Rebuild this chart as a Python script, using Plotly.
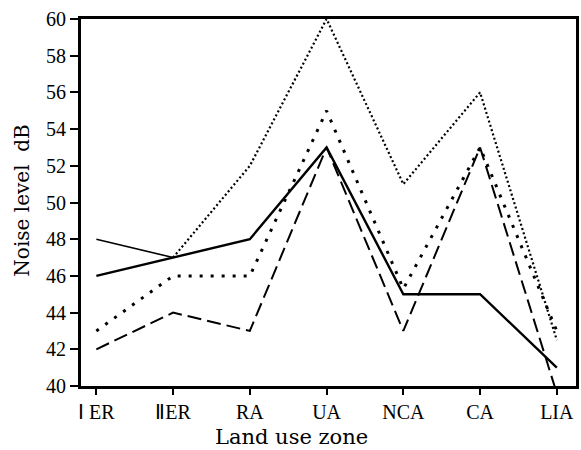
import plotly.graph_objects as go

zones = ["Ⅰ ER", "ⅡER", "RA", "UA", "NCA", "CA", "LIA"]
solid_thick = [46, 47, 48, 53, 45, 45, 41]
solid_thin = [48, 47, None, None, None, None, None]
fine_dotted = [None, 47, 52, 60, 51, 56, 42.5]
bold_dotted = [43, 46, 46, 55, 45.3, 53, 43]
dashed = [42, 44, 43, 53, 43, 53, 39.6]
y_ticks = list(range(40, 61, 2))

x = list(range(len(zones)))
fig = go.Figure()
fig.add_trace(go.Scatter(x=x, y=solid_thin, mode="lines",
                         line=dict(color="black", width=1.6)))
fig.add_trace(go.Scatter(x=x, y=fine_dotted, mode="lines",
                         line=dict(color="black", width=2.2, dash="2px,2.5px")))
fig.add_trace(go.Scatter(x=x, y=bold_dotted, mode="lines",
                         line=dict(color="black", width=3, dash="3px,8px")))
fig.add_trace(go.Scatter(x=x, y=dashed, mode="lines",
                         line=dict(color="black", width=2, dash="14px,6px")))
fig.add_trace(go.Scatter(x=x, y=solid_thick, mode="lines",
                         line=dict(color="black", width=2.4)))

tick_font = dict(family="Liberation Serif", size=20, color="black")
fig.update_layout(
    width=581, height=450,
    margin=dict(l=81, r=2, t=19, b=64),
    paper_bgcolor="white", plot_bgcolor="white",
    showlegend=False,
    font=dict(family="Liberation Serif", color="black"),
    xaxis=dict(range=[-0.2, 6.25], tickmode="array", tickvals=x, ticktext=zones,
               showgrid=False, zeroline=False, showline=True, linecolor="black",
               linewidth=3, mirror=True, ticks="outside", ticklen=6, tickwidth=2,
               tickcolor="black", tickfont=tick_font),
    yaxis=dict(range=[40, 60], tickmode="array", tickvals=y_ticks,
               showgrid=False, zeroline=False, showline=True, linecolor="black",
               linewidth=3, mirror=True, ticks="outside", ticklen=8, tickwidth=2,
               tickcolor="black", tickfont=tick_font),
    annotations=[
        dict(text="Noise level  dB", xref="paper", yref="paper", x=-0.12, y=0.504,
             textangle=-90, showarrow=False, xanchor="center", yanchor="middle",
             font=dict(family="DejaVu Serif", size=20, color="black")),
        dict(text="Land use zone", xref="paper", yref="paper", x=0.426, y=-0.138,
             showarrow=False, xanchor="center", yanchor="middle",
             font=dict(family="DejaVu Serif", size=21, color="black")),
    ],
)
fig.write_html("out.html")
